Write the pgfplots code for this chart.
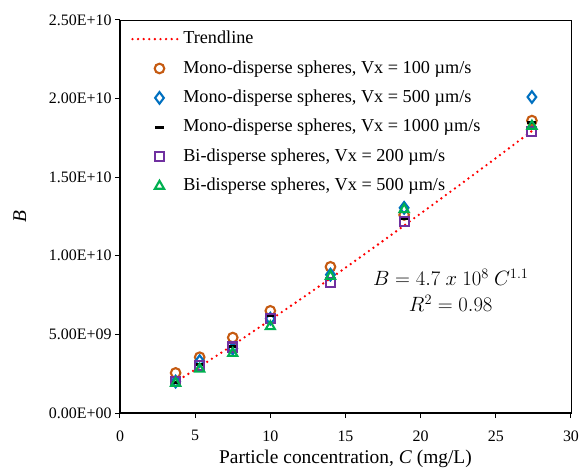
\documentclass[border=0pt]{standalone}
\usepackage{pgfplots}
\pgfplotsset{compat=1.18}
\usepackage{fontspec}
\setmainfont{Liberation Serif}
\usetikzlibrary{calc}
\definecolor{cOrange}{RGB}{197,90,17}
\definecolor{cBlue}{RGB}{0,112,192}
\definecolor{cPurple}{RGB}{112,48,160}
\definecolor{cGreen}{RGB}{0,176,80}
\pgfplotsset{
  trendleg/.style={legend image code/.code={\draw[##1] (0bp,0bp) -- (46bp,0bp);}},
  markleg/.style={only marks, legend image code/.code={\draw[##1] plot coordinates {(27bp,0bp)};}},
}
\begin{document}
\begin{tikzpicture}
\begin{axis}[
  scale only axis,
  width=451bp, height=393bp,
  xmin=0, xmax=30, ymin=0, ymax=2.5e10,
  xtick={0,5,...,30},
  ytick={0,5e9,1e10,1.5e10,2e10,2.5e10},
  yticklabels={0.00E+00,5.00E+09,1.00E+10,1.50E+10,2.00E+10,2.50E+10},
  scaled y ticks=false,
  /pgf/number format/assume math mode=true,
  tick align=outside, xtick pos=bottom, ytick pos=left,
  major tick length=5bp,
  tick style={black, line width=1bp},
  axis line style={line width=0.7bp},
  ticklabel style={font=\fontsize{16}{19}\selectfont},
  xticklabel style={yshift=-9bp},
  label style={font=\fontsize{19.5}{23}\selectfont},
  xlabel={Particle concentration, \textit{C} (mg/L)},
  ylabel={\textit{B}},
  xlabel style={yshift=-2bp},
  ylabel style={yshift=16bp},
  clip=false,
  legend cell align=left,
  legend style={draw=none, fill=none, at={(rel axis cs:0,1)}, anchor=north west,
    xshift=8bp, yshift=-7bp,
    font=\fontsize{18.3}{22}\selectfont,
    nodes={inner sep=1.5bp, text height=13bp, text depth=3.8bp},
    row sep=9.6bp, column sep=2bp},
]
\addplot[red, line width=2.6bp, line cap=round, dash pattern=on 0pt off 5.6bp, trendleg]
  coordinates {(3.6,1.92e9) (5,2.76e9) (7.5,4.31e9) (10,5.92e9) (12.5,7.56e9) (15,9.24e9)
  (17.5,10.95e9) (20,12.69e9) (22.5,14.44e9) (25,16.21e9) (27.4,17.94e9)};
\addlegendentry{Trendline}
\addplot[cOrange, markleg, mark=o, mark size=4.8bp, line width=2.1bp]
  coordinates {(3.7,2.55e9) (5.3,3.55e9) (7.5,4.8e9) (10,6.5e9) (14,9.3e9) (18.9,12.6e9) (27.4,18.6e9)};
\addlegendentry{Mono-disperse spheres, Vx = 100 µm/s}
\addplot[cBlue, markleg, mark=diamond*, mark options={fill=white}, mark size=5.8bp, line width=2.1bp]
  coordinates {(3.7,2.0e9) (5.3,3.3e9) (7.5,4.1e9) (10,6.0e9) (14,8.8e9) (18.9,13.05e9) (27.4,20.1e9)};
\addlegendentry{Mono-disperse spheres, Vx = 500 µm/s}
\addplot[black, markleg, mark=-, mark size=4.5bp, line width=3.2bp]
  coordinates {(3.7,1.95e9) (5.3,3.1e9) (7.5,4.25e9) (10,6.2e9) (14,8.55e9) (18.9,12.4e9) (27.4,18.5e9)};
\addlegendentry{Mono-disperse spheres, Vx = 1000 µm/s}
\addplot[cPurple, markleg, mark=square, mark size=4.5bp, line width=2.1bp]
  coordinates {(3.7,2.0e9) (5.3,3.0e9) (7.5,4.2e9) (10,6.0e9) (14,8.3e9) (18.9,12.2e9) (27.4,17.9e9)};
\addlegendentry{Bi-disperse spheres, Vx = 200 µm/s}
\addplot[cGreen, markleg, mark=triangle, mark size=5.3bp, line width=2.1bp]
  coordinates {(3.7,1.9e9) (5.3,2.8e9) (7.5,3.8e9) (10,5.5e9) (14,8.7e9) (18.9,12.95e9) (27.4,18.25e9)};
\addlegendentry{Bi-disperse spheres, Vx = 500 µm/s}
\node[font=\fontsize{21}{25}\selectfont, align=center] at (axis cs:22,7.8e9)
  {$B = 4.7\ x\ 10^{8}\ C^{1.1}$\\[1bp] $R^{2} = 0.98$};
\draw[line width=1.4bp] (rel axis cs:0,1) -- (rel axis cs:0,0) -- (rel axis cs:1,0);
\coordinate (bl) at (rel axis cs:0,0);
\coordinate (tr) at (rel axis cs:1,1);
\end{axis}
\pgfresetboundingbox
\path ($(bl)+(-120bp,-57bp)$) rectangle ($(tr)+(11bp,20bp)$);
\end{tikzpicture}
\end{document}
